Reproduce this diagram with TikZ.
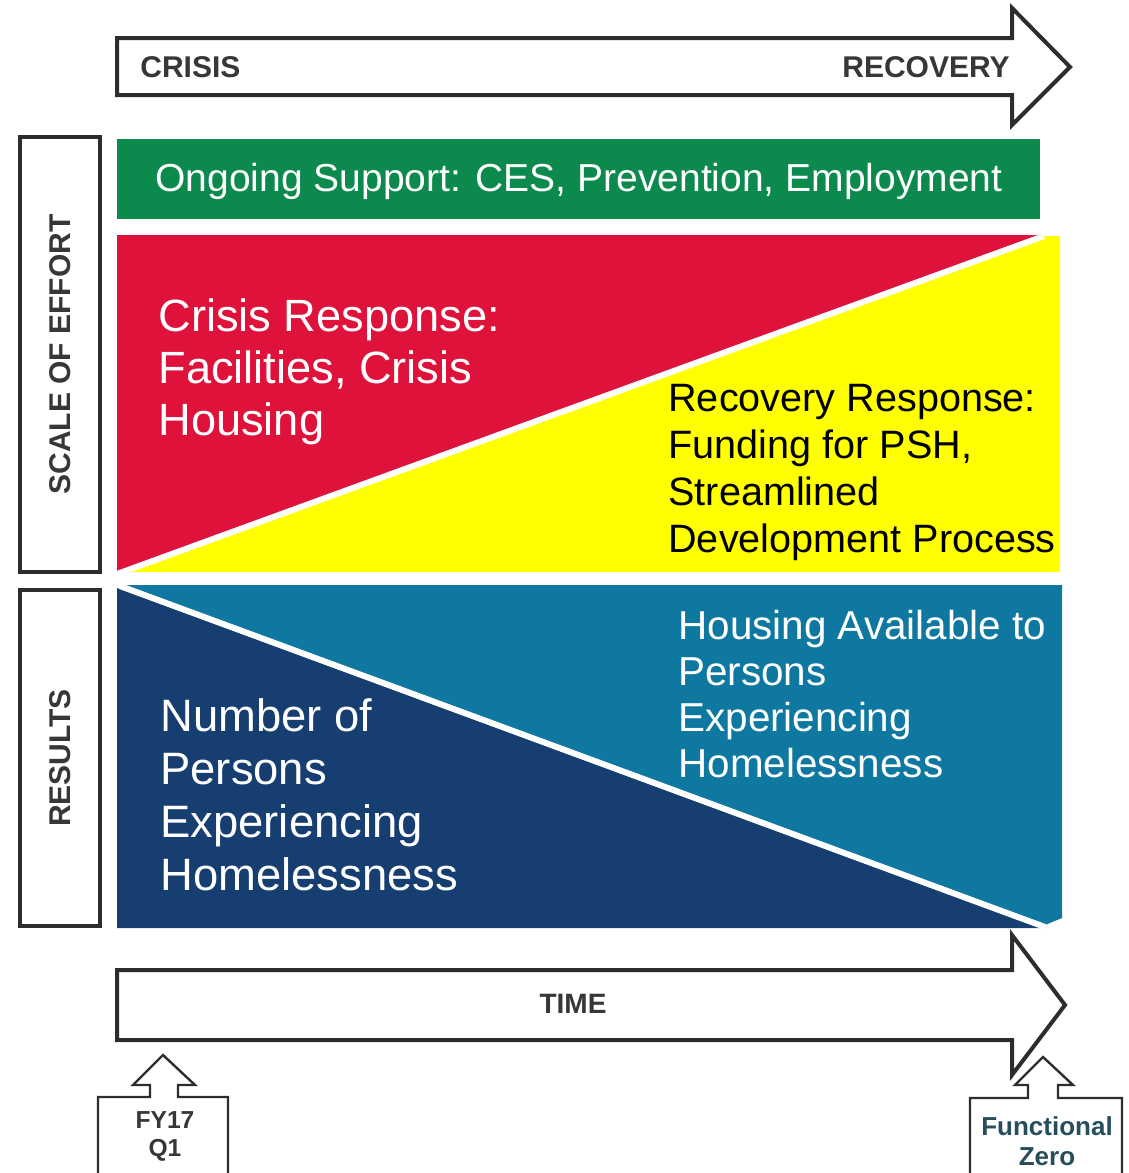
\documentclass[tikz,border=0pt]{standalone}
\usepackage{fontspec}
\setmainfont{Liberation Sans}
\usetikzlibrary{positioning}
\definecolor{supportgreen}{RGB}{12,138,78}
\definecolor{crisisred}{RGB}{222,18,58}
\definecolor{recoveryyellow}{RGB}{255,255,0}
\definecolor{personsnavy}{RGB}{22,62,112}
\definecolor{housingteal}{RGB}{14,120,160}
\definecolor{outline}{RGB}{45,45,45}
\definecolor{labelgray}{RGB}{55,55,55}
\definecolor{zeroteal}{RGB}{38,78,92}
\tikzset{
    % block arrows and callouts
    bigarrow/.style={
           draw=outline,
           fill=white,
           line width=2pt},
    callout/.style={
           draw=outline,
           fill=white,
           line width=1.2pt},
    % side labels
    sidebox/.style={
           draw=outline,
           line width=2pt,
           minimum height=40pt,
           inner sep=0pt,
           rotate=90,
           text=labelgray,
           font=\bfseries\fontsize{15}{18}\selectfont},
    arrowtext/.style={
           inner sep=0pt,
           text=labelgray,
           font=\bfseries\fontsize{15}{18}\selectfont},
    % text on the coloured areas
    areatext/.style={
           inner sep=0pt,
           anchor=north west,
           align=left,
           text=white},
    divider/.style={
           white,
           line width=3pt}
}
\begin{document}
\begin{tikzpicture}[x=0.5pt, y=-0.5pt]
\useasboundingbox (0,0) rectangle (1129,1173);
\clip (0,0) rectangle (1129,1173);

% crisis -> recovery
\filldraw[bigarrow] (117,38) -- (1012,38) -- (1012,8) -- (1070,67) -- (1012,125) -- (1012,95) -- (117,95) -- cycle;
\node[arrowtext, anchor=west] (crisis) at (140,67) {CRISIS};
\node[arrowtext, anchor=east] (recovery) at (1010,67) {RECOVERY};

% ongoing support
\fill[supportgreen] (117,139) rectangle (1040,219);
\node[inner sep=0pt, text=white, font=\fontsize{19.5}{22}\selectfont] (support) at (579,181) {Ongoing Support: CES, Prevention, Employment};

% scale of effort
\fill[crisisred] (117,235) rectangle (1040,572);
\fill[recoveryyellow] (117,574) -- (1044,236) -- (1060,236) -- (1060,572) -- (117,572) -- cycle;
\draw[divider] (117,574) -- (1044,236);
\node[areatext, font=\fontsize{22.6}{26}\selectfont] (crisisresp) at (158,298) {Crisis Response:\\Facilities, Crisis\\Housing};
\node[areatext, text=black, font=\fontsize{19.8}{23.5}\selectfont] (recoveryresp) at (668,384) {Recovery Response:\\Funding for PSH,\\Streamlined\\Development Process};

% results
\fill[housingteal] (122,585) -- (1062,585) -- (1062,918) -- (1045,925) -- cycle;
\fill[personsnavy] (117,588) -- (1040,928) -- (117,928) -- cycle;
\draw[divider] (120,586) -- (1045,927);
\node[areatext, font=\fontsize{20.2}{23}\selectfont] (housing) at (678,610) {Housing Available to\\Persons\\Experiencing\\Homelessness};
\node[areatext, font=\fontsize{22.7}{26.5}\selectfont] (persons) at (160,698) {Number of\\Persons\\Experiencing\\Homelessness};

% side labels
\node[sidebox, minimum width=217.5pt] (effort) at (60,354.5) {SCALE OF EFFORT};
\node[sidebox, minimum width=168pt] (results) at (60,758) {RESULTS};

% time
\filldraw[bigarrow] (117,970) -- (1012,970) -- (1012,935) -- (1065,1005) -- (1012,1075) -- (1012,1040) -- (117,1040) -- cycle;
\node[arrowtext, font=\bfseries\fontsize{14}{17}\selectfont] (time) at (573,1004) {TIME};

% start and end markers
\filldraw[callout] (98,1190) -- (98,1097) -- (150,1097) -- (150,1085) -- (133,1085) -- (163,1055) -- (195,1085) -- (178,1085) -- (178,1097) -- (228,1097) -- (228,1190);
\node[arrowtext, align=center, font=\bfseries\fontsize{12.3}{14}\selectfont] (start) at (165,1136) {FY17\\Q1};
\filldraw[callout] (970,1190) -- (970,1098) -- (1028,1098) -- (1028,1085) -- (1015,1085) -- (1043,1057) -- (1073,1085) -- (1058,1085) -- (1058,1098) -- (1122,1098) -- (1122,1190);
\node[arrowtext, align=center, text=zeroteal, font=\bfseries\fontsize{13}{15}\selectfont] (zero) at (1047,1141) {Functional\\Zero};
\end{tikzpicture}
\end{document}
